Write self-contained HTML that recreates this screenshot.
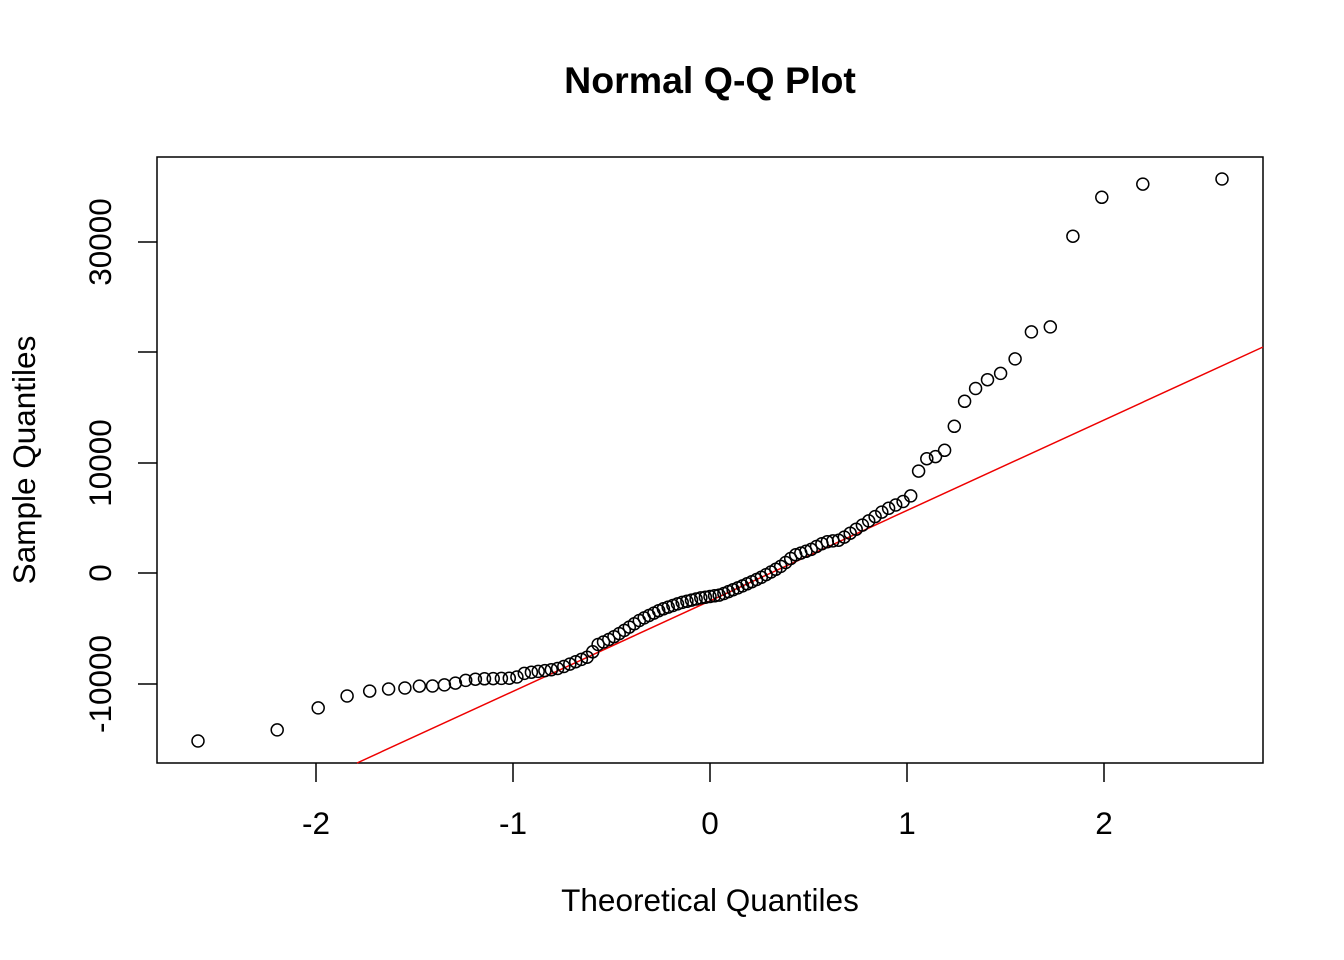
<!DOCTYPE html>
<html><head><meta charset="utf-8"><style>
html,body{margin:0;padding:0;background:#fff;}
svg{display:block;}
text{font-family:"Liberation Sans",Arial,sans-serif;fill:#000;}
</style></head><body>
<svg id="s" width="1344" height="960" xmlns="http://www.w3.org/2000/svg">
<text x="710" y="93" font-size="37.5" font-weight="bold" text-anchor="middle">Normal Q-Q Plot</text>
<text x="710" y="911" font-size="31.5" text-anchor="middle">Theoretical Quantiles</text>
<text transform="translate(35,460) rotate(-90)" font-size="31.5" text-anchor="middle">Sample Quantiles</text>
<rect x="157" y="157" width="1106" height="606" fill="none" stroke="#000" stroke-width="1.5"/>
<g stroke="#000" stroke-width="1.5">
<line x1="316" y1="763" x2="316" y2="782"/><line x1="513" y1="763" x2="513" y2="782"/>
<line x1="710" y1="763" x2="710" y2="782"/><line x1="907" y1="763" x2="907" y2="782"/>
<line x1="1104" y1="763" x2="1104" y2="782"/>
<line x1="138" y1="684" x2="157" y2="684"/><line x1="138" y1="573" x2="157" y2="573"/>
<line x1="138" y1="463" x2="157" y2="463"/><line x1="138" y1="352" x2="157" y2="352"/>
<line x1="138" y1="242" x2="157" y2="242"/>
</g>
<g font-size="31.5" text-anchor="middle">
<text x="316" y="834">-2</text><text x="513" y="834">-1</text><text x="710" y="834">0</text>
<text x="907" y="834">1</text><text x="1104" y="834">2</text>
<text transform="translate(111,684) rotate(-90)">-10000</text>
<text transform="translate(111,573) rotate(-90)">0</text>
<text transform="translate(111,463) rotate(-90)">10000</text>
<text transform="translate(111,242) rotate(-90)">30000</text>
</g>
<line x1="357" y1="763" x2="1263" y2="347" stroke="#e00" stroke-width="1.5"/>
<g id="pts" fill="none" stroke="#000" stroke-width="1.5"></g>
</svg>
<script>
function qnorm(p){var a=[-39.69683028665376,220.9460984245205,-275.9285104469687,138.357751867269,-30.66479806614716,2.506628277459239],b=[-54.47609879822406,161.5858368580409,-155.6989798598866,66.80131188771972,-13.28068155288572],c=[-0.007784894002430293,-0.3223964580411365,-2.400758277161838,-2.549732539343734,4.374664141464968,2.938163982698783],d=[0.007784695709041462,0.3224671290700398,2.445134137142996,3.754408661907416],q,r;
if(p<0.02425){q=Math.sqrt(-2*Math.log(p));return(((((c[0]*q+c[1])*q+c[2])*q+c[3])*q+c[4])*q+c[5])/((((d[0]*q+d[1])*q+d[2])*q+d[3])*q+1);}
if(p>1-0.02425){q=Math.sqrt(-2*Math.log(1-p));return-(((((c[0]*q+c[1])*q+c[2])*q+c[3])*q+c[4])*q+c[5])/((((d[0]*q+d[1])*q+d[2])*q+d[3])*q+1);}
q=p-0.5;r=q*q;return(((((a[0]*r+a[1])*r+a[2])*r+a[3])*r+a[4])*r+a[5])*q/(((((b[0]*r+b[1])*r+b[2])*r+b[3])*r+b[4])*r+1);}
var K=[[198,741],[277,730],[318,708],[347,696],[370,691],[389,689],[405,688],[420,686],[432,686],[444,685],[456,683],[467,680],[478,679],[515,678],[525,673],[550,670],[560,668],[575,662],[590,656],[597,645],[612,638],[625,630],[640,620],[660,610],[680,603],[700,598],[720,595],[740,587],[760,578],[780,567],[795,555],[810,550],[825,542],[840,540],[855,530],[870,520],[885,510],[900,503],[910,498],[918,472],[928,457],[935,457],[945,450],[954,427],[964,402],[975,389],[987,380],[1000,374],[1015,359],[1031,332],[1050,328],[1073,236],[1102,197],[1143,184],[1222,179]];
function yat(x){if(x<=K[0][0])return K[0][1];for(var i=1;i<K.length;i++){if(x<=K[i][0]){var t=(x-K[i-1][0])/(K[i][0]-K[i-1][0]);return K[i-1][1]+t*(K[i][1]-K[i-1][1]);}}return K[K.length-1][1];}
var g=document.getElementById('pts'),h='',n=107;
for(var i=1;i<=n;i++){var x=710+197*qnorm((i-0.5)/n);h+='<circle cx="'+x.toFixed(1)+'" cy="'+yat(x).toFixed(1)+'" r="6"/>';}
g.innerHTML=h;
</script>
</body></html>
